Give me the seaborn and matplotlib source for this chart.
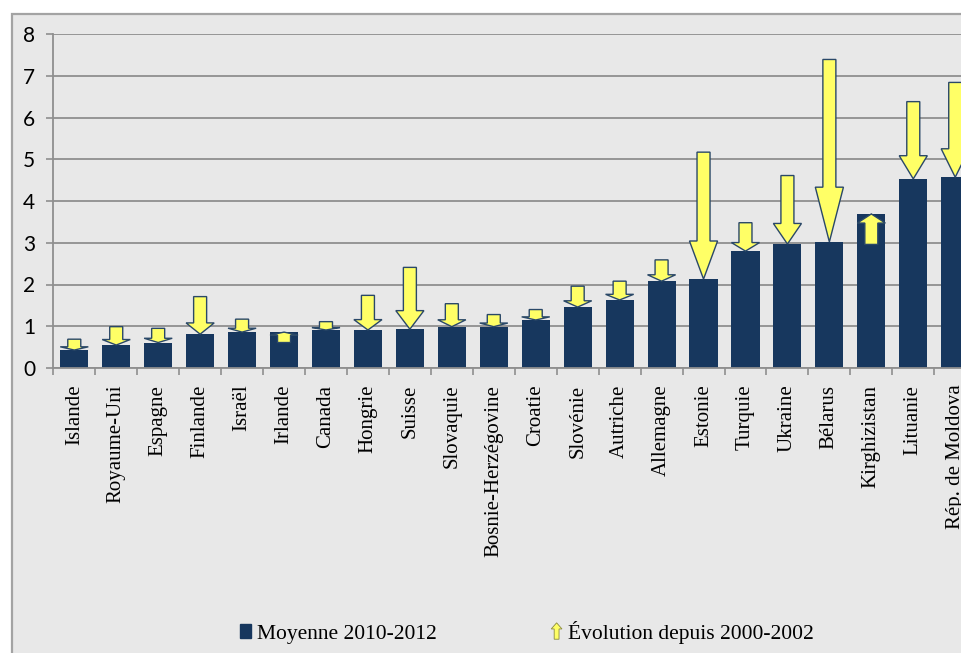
import matplotlib
matplotlib.use("Agg")
import matplotlib.pyplot as plt
from matplotlib.patches import FancyArrow, Patch, Rectangle
from matplotlib.legend_handler import HandlerPatch
from matplotlib.ticker import FixedLocator
import seaborn as sns
import pandas as pd

# Countries, ordered by their 2010-2012 average
pays = ["Islande", "Royaume-Uni", "Espagne", "Finlande", "Israël", "Irlande",
        "Canada", "Hongrie", "Suisse", "Slovaquie", "Bosnie-Herzégovine",
        "Croatie", "Slovénie", "Autriche", "Allemagne", "Estonie", "Turquie",
        "Ukraine", "Bélarus", "Kirghizistan", "Lituanie", "Rép. de Moldova"]

# Average 2010-2012
moyenne_2010_2012 = [0.43, 0.55, 0.61, 0.81, 0.86, 0.86, 0.91, 0.91, 0.93,
                     0.99, 0.99, 1.15, 1.46, 1.63, 2.08, 2.13, 2.80, 2.97,
                     3.02, 3.69, 4.53, 4.57]

# Level in 2000-2002 (start of each arrow)
niveau_2000_2002 = [0.69, 0.99, 0.95, 1.71, 1.17, 0.61, 1.11, 1.74, 2.41,
                    1.54, 1.28, 1.40, 1.96, 2.08, 2.59, 5.17, 3.48, 4.61,
                    7.39, 2.96, 6.38, 6.84]

y_ticks = [0, 1, 2, 3, 4, 5, 6, 7, 8]

NAVY = "#17375E"
YELLOW = "#FFFF66"
ARROW_EDGE = "#2A4868"
GRID = "#8F8F8F"
BG = "#E8E8E8"
SERIF = "Liberation Serif"

df = pd.DataFrame({"pays": pays, "moyenne": moyenne_2010_2012,
                   "debut": niveau_2000_2002})

fig = plt.figure(figsize=(9.62, 6.53), dpi=100)
fig.patch.set_facecolor("white")
fig.patches.append(Rectangle((12 / 962, -0.02), 1.0, 1 - 14 / 653 + 0.02,
                             transform=fig.transFigure, facecolor=BG,
                             edgecolor="#A3A3A3", lw=1.6, zorder=-10))

ax = fig.add_axes([53.3 / 962, 1 - 368 / 653, 22 * 41.95 / 962, 334 / 653])
ax.set_facecolor(BG)
ax.set_zorder(1)

sns.barplot(data=df, x="pays", y="moyenne", color=NAVY, width=0.67,
            saturation=1, ax=ax, zorder=2)

# Arrows from the 2000-2002 level to the 2010-2012 level
for i, (start, end) in enumerate(zip(df["debut"], df["moyenne"])):
    dy = end - start
    arrow = FancyArrow(i, start, 0, dy, width=0.31, head_width=0.67,
                       head_length=0.3 * abs(dy), length_includes_head=True,
                       facecolor=YELLOW, edgecolor=ARROW_EDGE, lw=1.0,
                       zorder=3)
    ax.add_patch(arrow)

ax.set_xlim(-0.5, len(pays) - 0.5)
ax.set_ylim(0, 8)
ax.set_yticks(y_ticks)
ax.set_xlabel("")
ax.set_ylabel("")

ax.yaxis.grid(True, color=GRID, lw=1.3, zorder=0)
ax.xaxis.grid(False)
ax.set_axisbelow(True)

for side in ("top", "right"):
    ax.spines[side].set_visible(False)
for side in ("left", "bottom"):
    ax.spines[side].set_color(GRID)
    ax.spines[side].set_linewidth(1.3)

ax.tick_params(axis="y", length=5, width=1.2, color=GRID, pad=8,
               labelsize=15)
for lab in ax.get_yticklabels():
    lab.set_fontfamily("Lato")

# Category labels at bar centres, tick marks between categories
ax.set_xticks(range(len(pays)))
ax.set_xticklabels(pays, rotation=90, fontfamily=SERIF, fontsize=15)
ax.tick_params(axis="x", which="major", length=0, pad=12)
ax.xaxis.set_minor_locator(FixedLocator([k - 0.5 for k in range(len(pays) + 1)]))
ax.tick_params(axis="x", which="minor", length=5, width=1.2, color=GRID)


def arrow_handle(legend, orig_handle, xdescent, ydescent, width, height,
                 fontsize):
    return FancyArrow(0.5 * width - xdescent, -ydescent - 0.1 * height, 0,
                      1.2 * height, width=0.45 * width, head_width=width,
                      head_length=0.45 * height, length_includes_head=True)


handles = [Patch(facecolor=NAVY, edgecolor=NAVY),
           FancyArrow(0, 0, 0, 1, facecolor=YELLOW, edgecolor="#8A8A40",
                      lw=0.6)]
labels = ["Moyenne 2010-2012", "Évolution depuis 2000-2002"]
fig.legend(handles, labels, loc="center", bbox_to_anchor=(0.548, 0.032),
           ncol=2, frameon=False, columnspacing=5.3, handletextpad=0.3,
           handlelength=0.5, handleheight=0.6,
           prop={"family": SERIF, "size": 15.5},
           handler_map={FancyArrow: HandlerPatch(patch_func=arrow_handle)})

fig.savefig("out.png", dpi=100, facecolor=fig.get_facecolor())
